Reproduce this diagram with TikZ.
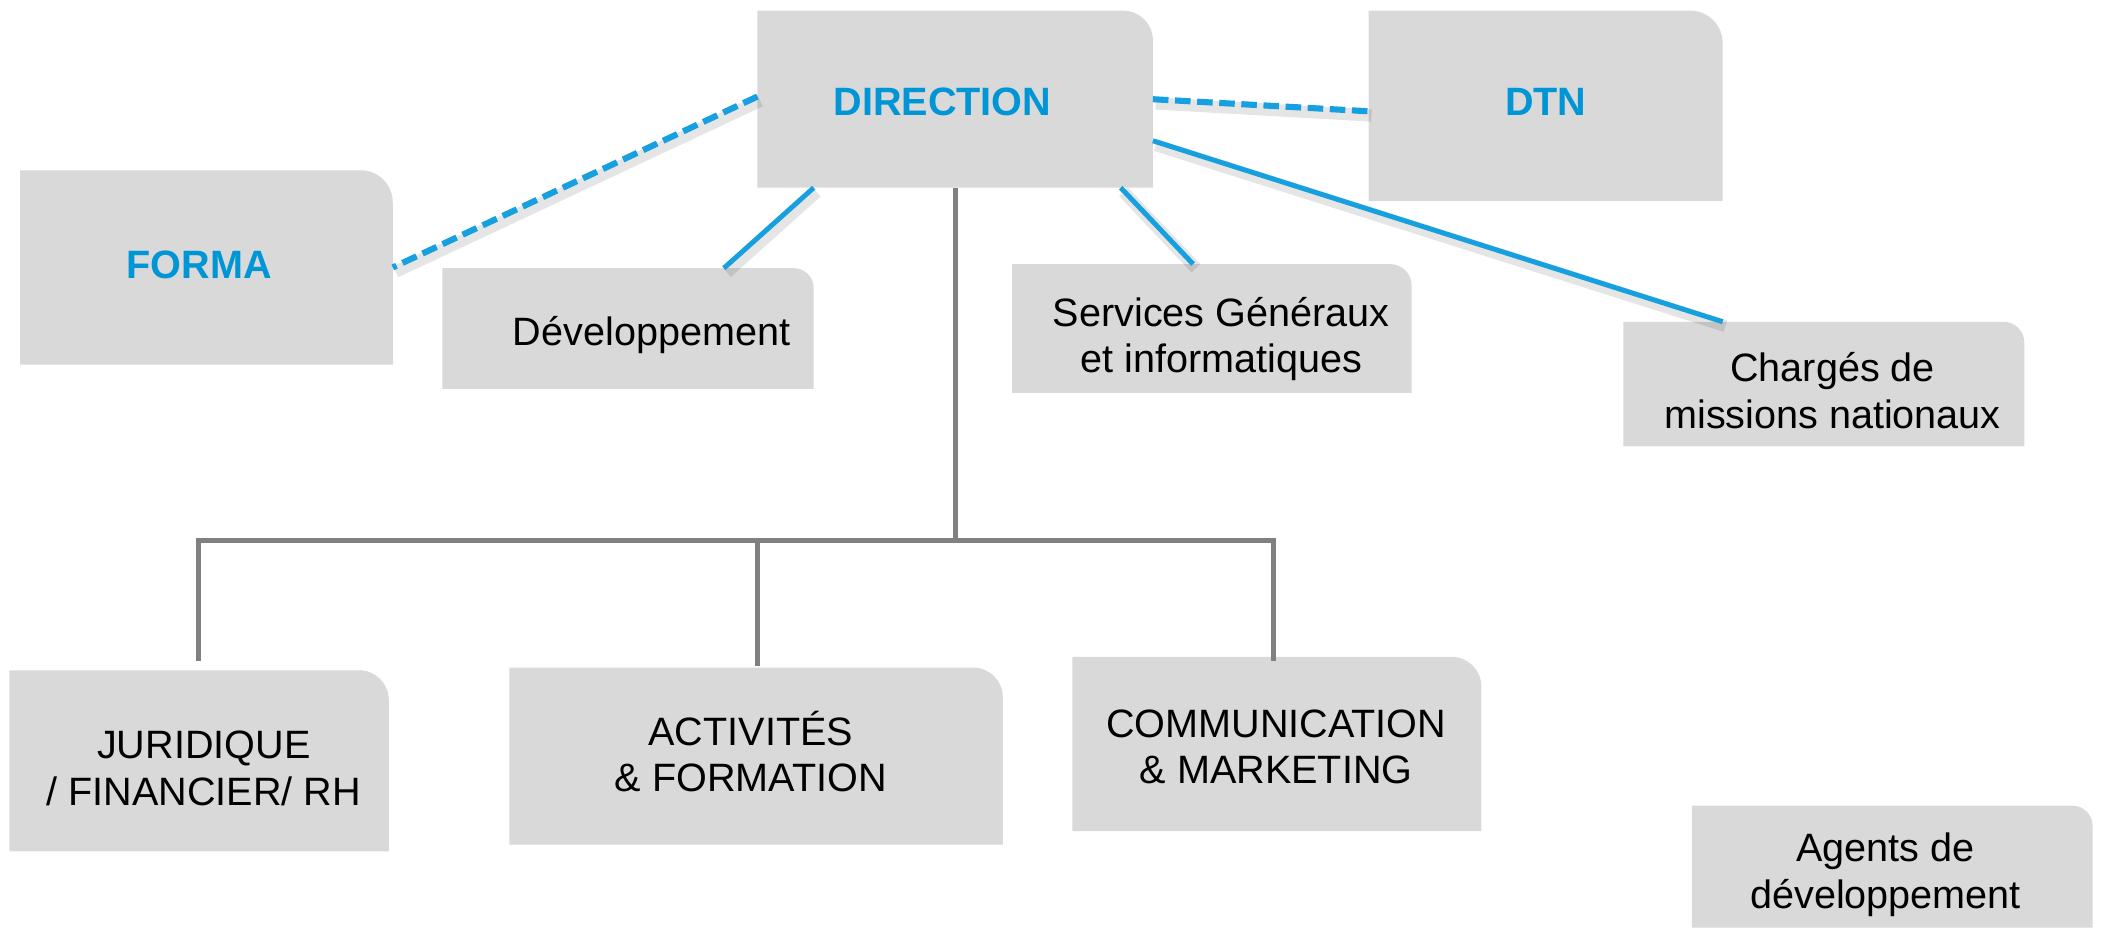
\documentclass[tikz,border=0pt]{standalone}
\usepackage{fontspec}
\setmainfont{Liberation Sans}
\usetikzlibrary{calc}
\definecolor{boxgray}{HTML}{D9D9D9}
\definecolor{titleblue}{HTML}{0096D6}
\definecolor{lineblue}{HTML}{17A0E0}
\definecolor{treegray}{HTML}{808080}
\tikzset{
  orgbox/.style={rectangle, inner sep=0pt, outer sep=0pt, draw=none,
    path picture={\fill[boxgray] (path picture bounding box.south west) -- (path picture bounding box.north west) -- ([xshift=-#1]path picture bounding box.north east) arc[start angle=90,end angle=0,radius=#1] -- (path picture bounding box.south east) -- cycle;}},
  lbl/.style={inner sep=0pt, outer sep=0pt, align=center, font=\fontsize{8.4}{9.9}\selectfont},
  title/.style={lbl, font=\fontsize{8.4}{9.9}\selectfont\bfseries, text=titleblue},
  lshadow/.style={preaction={draw=black, draw opacity=0.10, line width=2.6pt, transform canvas={xshift=0.6pt,yshift=-0.9pt}}},
  solidlink/.style={lshadow, draw=lineblue, line width=1.05pt},
  dashlink/.style={lshadow, draw=lineblue, line width=1.3pt, dash pattern=on 3.3pt off 1.4pt},
  treelink/.style={draw=treegray, line width=1.05pt}
}
\begin{document}
\begin{tikzpicture}
\useasboundingbox (0,0) rectangle (15.68,-6.92);
% boxes
\node[orgbox=0.22cm, minimum width=2.95cm, minimum height=1.32cm] (dir) at (7.125,-0.74) {};
\node[orgbox=0.24cm, minimum width=2.64cm, minimum height=1.42cm] (dtn) at (11.53,-0.79) {};
\node[orgbox=0.24cm, minimum width=2.78cm, minimum height=1.45cm] (forma) at (1.54,-1.995) {};
\node[orgbox=0.15cm, minimum width=2.77cm, minimum height=0.90cm] (dev) at (4.685,-2.45) {};
\node[orgbox=0.16cm, minimum width=2.98cm, minimum height=0.96cm] (serv) at (9.04,-2.45) {};
\node[orgbox=0.155cm, minimum width=2.99cm, minimum height=0.93cm] (charg) at (13.605,-2.865) {};
\node[orgbox=0.22cm, minimum width=2.83cm, minimum height=1.35cm] (jur) at (1.485,-5.675) {};
\node[orgbox=0.22cm, minimum width=3.68cm, minimum height=1.32cm] (act) at (5.64,-5.64) {};
\node[orgbox=0.22cm, minimum width=3.05cm, minimum height=1.30cm] (comm) at (9.525,-5.55) {};
\node[orgbox=0.15cm, minimum width=2.99cm, minimum height=0.91cm] (agents) at (14.115,-6.465) {};
% texts
\node[title, anchor=base] (tdir) at (7.03,-0.86) {DIRECTION};
\node[title, anchor=base] (tdtn) at (11.53,-0.86) {DTN};
\node[title, anchor=base] (tforma) at (1.485,-2.075) {FORMA};
\node[lbl, anchor=base] (tdev) at (4.86,-2.58) {Développement};
\node[lbl] (tserv) at (9.11,-2.53) {Services Généraux\\et informatiques};
\node[lbl] (tcharg) at (13.67,-2.915) {Chargés de\\missions nationaux};
\node[lbl] (tagents) at (14.065,-6.525) {Agents de\\développement};
\node[lbl] (tjur) at (1.52,-5.73) {JURIDIQUE\\/ FINANCIER/ RH};
\node[lbl] (tact) at (5.60,-5.605) {ACTIVITÉS\\\& FORMATION};
\node[lbl] (tcomm) at (9.52,-5.57) {COMMUNICATION\\\& MARKETING};
% blue links
\draw[dashlink] ([yshift=0.02cm]dir.west) -- (forma.east);
\draw[dashlink] (dir.east) -- ([yshift=-0.04cm]dtn.west);
\draw[solidlink] ([xshift=0.42cm]dir.south west) -- ([xshift=2.10cm]dev.north west);
\draw[solidlink] ([xshift=-0.24cm]dir.south east) -- ([xshift=1.35cm]serv.north west);
\draw[solidlink] ([yshift=0.35cm]dir.south east) -- ([xshift=0.74cm]charg.north west);
% tree
\coordinate (bus) at (7.125,-4.03);
\draw[treelink] (dir.south) -- (dir.south |- bus);
\draw[treelink] ([xshift=1.41cm,yshift=0.07cm]jur.north west) |- (bus) -| ([xshift=1.50cm,yshift=-0.03cm]comm.north west);
\draw[treelink] ([xshift=1.85cm,yshift=0.01cm]act.north west) -- ([xshift=1.85cm]act.north west |- bus);
\end{tikzpicture}
\end{document}
